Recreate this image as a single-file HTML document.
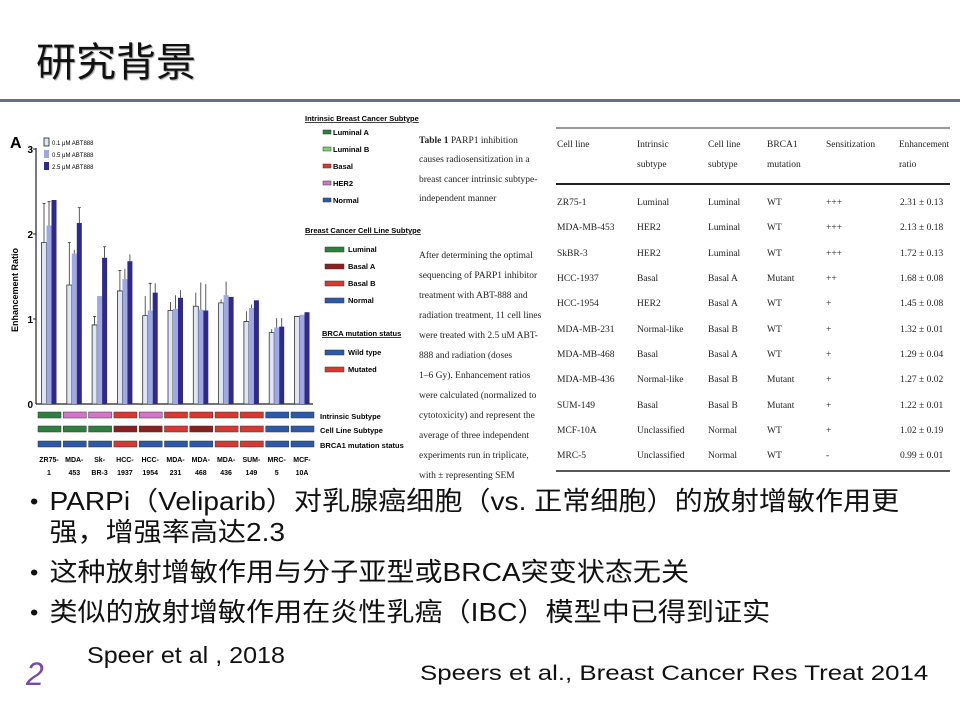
<!DOCTYPE html>
<html><head><meta charset="utf-8"><style>
html,body{margin:0;padding:0;background:#fff;}
body{width:960px;height:720px;overflow:hidden;position:relative;font-family:"Liberation Sans","Noto Sans CJK SC",sans-serif;}
.t{position:absolute;white-space:nowrap;}
</style></head><body>
<div class="t" style="left:36px;top:30px;font-size:40px;color:#111;font-family:'Noto Sans CJK SC',sans-serif;text-shadow:1px 1px 1px #999;">研究背景</div>
<div style="position:absolute;left:0;top:99px;width:960px;height:3px;background:#5b7190;"></div>

<svg width="960" height="720" style="position:absolute;left:0;top:0" font-family="Liberation Sans Narrow, Liberation Sans, sans-serif">
<text x="10" y="148" font-size="16" font-weight="bold" font-family="Liberation Sans">A</text>
<text transform="translate(18,290) rotate(-90)" font-size="9" font-weight="bold" text-anchor="middle" font-family="Liberation Sans">Enhancement Ratio</text>
<g font-size="10" font-weight="bold" text-anchor="end">
<text x="33" y="153">3</text><text x="33" y="238">2</text><text x="33" y="323">1</text><text x="33" y="408">0</text></g>
<line x1="36" y1="148" x2="36" y2="404" stroke="#222" stroke-width="1.2"/>
<line x1="36" y1="404" x2="313" y2="404" stroke="#222" stroke-width="1.2"/>
<g stroke="#222" stroke-width="1"><line x1="33" y1="149" x2="36" y2="149"/><line x1="33" y1="234" x2="36" y2="234"/><line x1="33" y1="319" x2="36" y2="319"/></g>
<rect x="44" y="138" width="5" height="8" fill="#dce6f5" stroke="#222" stroke-width="0.8"/>
<rect x="44" y="150" width="5" height="8" fill="#9fa8e0"/>
<rect x="44" y="162" width="5" height="8" fill="#2e2a8c"/>
<g font-size="6"><text x="52" y="145">0.1 μM ABT888</text><text x="52" y="157">0.5 μM ABT888</text><text x="52" y="169">2.5 μM ABT888</text></g>
<g transform="translate(0,404) scale(1,-85)">
<g fill="#dce6f5" stroke="#333" stroke-width="0.8">
<rect vector-effect="non-scaling-stroke" x="41.5" y="0" width="5" height="1.9"/>
<rect vector-effect="non-scaling-stroke" x="66.8" y="0" width="5" height="1.4"/>
<rect vector-effect="non-scaling-stroke" x="92.1" y="0" width="5" height="0.93"/>
<rect vector-effect="non-scaling-stroke" x="117.4" y="0" width="5" height="1.33"/>
<rect vector-effect="non-scaling-stroke" x="142.7" y="0" width="5" height="1.04"/>
<rect vector-effect="non-scaling-stroke" x="168" y="0" width="5" height="1.1"/>
<rect vector-effect="non-scaling-stroke" x="193.3" y="0" width="5" height="1.15"/>
<rect vector-effect="non-scaling-stroke" x="218.6" y="0" width="5" height="1.19"/>
<rect vector-effect="non-scaling-stroke" x="243.9" y="0" width="5" height="0.97"/>
<rect vector-effect="non-scaling-stroke" x="269.2" y="0" width="5" height="0.84"/>
<rect vector-effect="non-scaling-stroke" x="294.5" y="0" width="5" height="1.03"/>
</g>
<g fill="#9fa8e0">
<rect x="46.5" y="0" width="5" height="2.1"/><rect x="71.8" y="0" width="5" height="1.77"/><rect x="97.1" y="0" width="5" height="1.27"/><rect x="122.4" y="0" width="5" height="1.47"/><rect x="147.7" y="0" width="5" height="1.1"/><rect x="173" y="0" width="5" height="1.12"/><rect x="198.3" y="0" width="5" height="1.11"/><rect x="223.6" y="0" width="5" height="1.28"/><rect x="248.9" y="0" width="5" height="1.13"/><rect x="274.2" y="0" width="5" height="0.9"/><rect x="299.5" y="0" width="5" height="1.05"/>
</g>
<g fill="#2e2a8c">
<rect x="51.5" y="0" width="5" height="2.4"/><rect x="76.8" y="0" width="5" height="2.13"/><rect x="102.1" y="0" width="5" height="1.72"/><rect x="127.4" y="0" width="5" height="1.68"/><rect x="152.7" y="0" width="5" height="1.31"/><rect x="178" y="0" width="5" height="1.25"/><rect x="203.3" y="0" width="5" height="1.1"/><rect x="228.6" y="0" width="5" height="1.26"/><rect x="253.9" y="0" width="5" height="1.22"/><rect x="279.2" y="0" width="5" height="0.91"/><rect x="304.5" y="0" width="5" height="1.08"/>
</g>
<g stroke="#333" stroke-width="0.8" fill="none">
<path vector-effect="non-scaling-stroke" d="M44 1.9V2.36M42.5 2.36H45.5M49 2.1V2.38M47.5 2.38H50.5M69.3 1.4V1.9M67.8 1.9H70.8M74.3 1.77V1.81M79.3 2.13V2.31M77.8 2.31H80.8M94.6 0.93V1.03M93.1 1.03H96.1M104.6 1.72V1.85M103.1 1.85H106.1M119.9 1.33V1.57M118.4 1.57H121.4M124.9 1.47V1.59M129.9 1.68V1.76M145.2 1.04V1.27M150.2 1.1V1.42M148.7 1.42H151.7M155.2 1.31V1.42M170.5 1.1V1.2M175.5 1.12V1.28M180.5 1.25V1.34M195.8 1.15V1.31M200.8 1.11V1.43M205.8 1.1V1.41M221.1 1.19V1.23M226.1 1.28V1.44M246.4 0.97V1.09M251.4 1.13V1.17M271.7 0.84V0.88M276.7 0.9V1.01M281.7 0.91V1.01"/>
</g>
</g>
<g stroke="#333" stroke-width="0.5">
<rect x="38" y="412" width="23" height="6" fill="#2e8040"/><rect x="63.3" y="412" width="23" height="6" fill="#d574c8"/><rect x="88.6" y="412" width="23" height="6" fill="#d574c8"/><rect x="113.9" y="412" width="23" height="6" fill="#d43a32"/><rect x="139.2" y="412" width="23" height="6" fill="#d574c8"/><rect x="164.5" y="412" width="23" height="6" fill="#d43a32"/><rect x="189.8" y="412" width="23" height="6" fill="#d43a32"/><rect x="215.1" y="412" width="23" height="6" fill="#d43a32"/><rect x="240.4" y="412" width="23" height="6" fill="#d43a32"/><rect x="265.7" y="412" width="23" height="6" fill="#2d5aa8"/><rect x="291" y="412" width="23" height="6" fill="#2d5aa8"/>
<rect x="38" y="426" width="23" height="6" fill="#2e8040"/><rect x="63.3" y="426" width="23" height="6" fill="#2e8040"/><rect x="88.6" y="426" width="23" height="6" fill="#2e8040"/><rect x="113.9" y="426" width="23" height="6" fill="#8a2020"/><rect x="139.2" y="426" width="23" height="6" fill="#8a2020"/><rect x="164.5" y="426" width="23" height="6" fill="#d43a32"/><rect x="189.8" y="426" width="23" height="6" fill="#8a2020"/><rect x="215.1" y="426" width="23" height="6" fill="#d43a32"/><rect x="240.4" y="426" width="23" height="6" fill="#d43a32"/><rect x="265.7" y="426" width="23" height="6" fill="#2d5aa8"/><rect x="291" y="426" width="23" height="6" fill="#2d5aa8"/>
<rect x="38" y="441" width="23" height="6" fill="#2d5aa8"/><rect x="63.3" y="441" width="23" height="6" fill="#2d5aa8"/><rect x="88.6" y="441" width="23" height="6" fill="#2d5aa8"/><rect x="113.9" y="441" width="23" height="6" fill="#d43a32"/><rect x="139.2" y="441" width="23" height="6" fill="#2d5aa8"/><rect x="164.5" y="441" width="23" height="6" fill="#2d5aa8"/><rect x="189.8" y="441" width="23" height="6" fill="#2d5aa8"/><rect x="215.1" y="441" width="23" height="6" fill="#d43a32"/><rect x="240.4" y="441" width="23" height="6" fill="#d43a32"/><rect x="265.7" y="441" width="23" height="6" fill="#2d5aa8"/><rect x="291" y="441" width="23" height="6" fill="#2d5aa8"/>
</g>
<g font-size="7.5" font-weight="bold"><text x="320" y="419">Intrinsic Subtype</text><text x="320" y="433">Cell Line Subtype</text><text x="320" y="448">BRCA1 mutation status</text></g>
<g font-size="7" font-weight="bold" text-anchor="middle">
<text x="49" y="462">ZR75-</text><text x="49" y="475">1</text>
<text x="74.3" y="462">MDA-</text><text x="74.3" y="475">453</text>
<text x="99.6" y="462">Sk-</text><text x="99.6" y="475">BR-3</text>
<text x="124.9" y="462">HCC-</text><text x="124.9" y="475">1937</text>
<text x="150.2" y="462">HCC-</text><text x="150.2" y="475">1954</text>
<text x="175.5" y="462">MDA-</text><text x="175.5" y="475">231</text>
<text x="200.8" y="462">MDA-</text><text x="200.8" y="475">468</text>
<text x="226.1" y="462">MDA-</text><text x="226.1" y="475">436</text>
<text x="251.4" y="462">SUM-</text><text x="251.4" y="475">149</text>
<text x="276.7" y="462">MRC-</text><text x="276.7" y="475">5</text>
<text x="302" y="462">MCF-</text><text x="302" y="475">10A</text></g>
<g font-size="7.5" font-weight="bold">
<text x="305" y="121" text-decoration="underline">Intrinsic Breast Cancer Subtype</text>
<text x="333" y="135">Luminal A</text><text x="333" y="152">Luminal B</text><text x="333" y="169">Basal</text><text x="333" y="186">HER2</text><text x="333" y="203">Normal</text>
<text x="305" y="233" text-decoration="underline">Breast Cancer Cell Line Subtype</text>
<text x="348" y="252">Luminal</text><text x="348" y="269">Basal A</text><text x="348" y="286">Basal B</text><text x="348" y="303">Normal</text>
<text x="322" y="336" text-decoration="underline">BRCA mutation status</text>
<text x="348" y="355">Wild type</text><text x="348" y="372">Mutated</text></g>
<g stroke="#333" stroke-width="0.5">
<rect x="323" y="130" width="8" height="4" fill="#2e8040"/><rect x="323" y="147" width="8" height="4" fill="#7fd46a"/><rect x="323" y="164" width="8" height="4" fill="#d43a32"/><rect x="323" y="181" width="8" height="4" fill="#d574c8"/><rect x="323" y="198" width="8" height="4" fill="#2d5aa8"/>
<rect x="325" y="247" width="19" height="5" fill="#2e8040"/><rect x="325" y="264" width="19" height="5" fill="#8a2020"/><rect x="325" y="281" width="19" height="5" fill="#d43a32"/><rect x="325" y="298" width="19" height="5" fill="#2d5aa8"/>
<rect x="325" y="350" width="19" height="5" fill="#2d5aa8"/><rect x="325" y="367" width="19" height="5" fill="#d43a32"/></g>

<g font-family="Liberation Serif, serif" font-size="9.5" fill="#222">
<text x="419" y="143"><tspan font-weight="bold">Table 1</tspan> PARP1 inhibition</text>
<text x="419" y="162">causes radiosensitization in a</text>
<text x="419" y="182">breast cancer intrinsic subtype-</text>
<text x="419" y="201">independent manner</text>
<text x="419" y="258">After determining the optimal</text>
<text x="419" y="278">sequencing of PARP1 inhibitor</text>
<text x="419" y="298">treatment with ABT-888 and</text>
<text x="419" y="318">radiation treatment, 11 cell lines</text>
<text x="419" y="338">were treated with 2.5 uM ABT-</text>
<text x="419" y="358">888 and radiation (doses</text>
<text x="419" y="378">1–6 Gy). Enhancement ratios</text>
<text x="419" y="398">were calculated (normalized to</text>
<text x="419" y="418">cytotoxicity) and represent the</text>
<text x="419" y="438">average of three independent</text>
<text x="419" y="458">experiments run in triplicate,</text>
<text x="419" y="478">with ± representing SEM</text>
</g>
<line x1="556" y1="128" x2="950" y2="128" stroke="#333" stroke-width="1"/>
<line x1="556" y1="184" x2="950" y2="184" stroke="#222" stroke-width="2"/>
<line x1="556" y1="471" x2="950" y2="471" stroke="#222" stroke-width="1.5"/>
<g font-family="Liberation Serif, serif" font-size="9.5" fill="#222">
<text x="557" y="147">Cell line</text><text x="637" y="147">Intrinsic</text><text x="637" y="167">subtype</text><text x="708" y="147">Cell line</text><text x="708" y="167">subtype</text><text x="767" y="147">BRCA1</text><text x="767" y="167">mutation</text><text x="826" y="147">Sensitization</text><text x="899" y="147" textLength="50" lengthAdjust="spacingAndGlyphs">Enhancement</text><text x="899" y="167">ratio</text>
</g>
<g font-family="Liberation Serif, serif" font-size="9.5" fill="#222">
<text y="205"><tspan x="557">ZR75-1</tspan><tspan x="637">Luminal</tspan><tspan x="708">Luminal</tspan><tspan x="767">WT</tspan><tspan x="826">+++</tspan><tspan x="900">2.31 ± 0.13</tspan></text>
<text y="230"><tspan x="557">MDA-MB-453</tspan><tspan x="637">HER2</tspan><tspan x="708">Luminal</tspan><tspan x="767">WT</tspan><tspan x="826">+++</tspan><tspan x="900">2.13 ± 0.18</tspan></text>
<text y="256"><tspan x="557">SkBR-3</tspan><tspan x="637">HER2</tspan><tspan x="708">Luminal</tspan><tspan x="767">WT</tspan><tspan x="826">+++</tspan><tspan x="900">1.72 ± 0.13</tspan></text>
<text y="281"><tspan x="557">HCC-1937</tspan><tspan x="637">Basal</tspan><tspan x="708">Basal A</tspan><tspan x="767">Mutant</tspan><tspan x="826">++</tspan><tspan x="900">1.68 ± 0.08</tspan></text>
<text y="306"><tspan x="557">HCC-1954</tspan><tspan x="637">HER2</tspan><tspan x="708">Basal A</tspan><tspan x="767">WT</tspan><tspan x="826">+</tspan><tspan x="900">1.45 ± 0.08</tspan></text>
<text y="332"><tspan x="557">MDA-MB-231</tspan><tspan x="637">Normal-like</tspan><tspan x="708">Basal B</tspan><tspan x="767">WT</tspan><tspan x="826">+</tspan><tspan x="900">1.32 ± 0.01</tspan></text>
<text y="357"><tspan x="557">MDA-MB-468</tspan><tspan x="637">Basal</tspan><tspan x="708">Basal A</tspan><tspan x="767">WT</tspan><tspan x="826">+</tspan><tspan x="900">1.29 ± 0.04</tspan></text>
<text y="382"><tspan x="557">MDA-MB-436</tspan><tspan x="637">Normal-like</tspan><tspan x="708">Basal B</tspan><tspan x="767">Mutant</tspan><tspan x="826">+</tspan><tspan x="900">1.27 ± 0.02</tspan></text>
<text y="408"><tspan x="557">SUM-149</tspan><tspan x="637">Basal</tspan><tspan x="708">Basal B</tspan><tspan x="767">Mutant</tspan><tspan x="826">+</tspan><tspan x="900">1.22 ± 0.01</tspan></text>
<text y="433"><tspan x="557">MCF-10A</tspan><tspan x="637">Unclassified</tspan><tspan x="708">Normal</tspan><tspan x="767">WT</tspan><tspan x="826">+</tspan><tspan x="900">1.02 ± 0.19</tspan></text>
<text y="458"><tspan x="557">MRC-5</tspan><tspan x="637">Unclassified</tspan><tspan x="708">Normal</tspan><tspan x="767">WT</tspan><tspan x="826">-</tspan><tspan x="900">0.99 ± 0.01</tspan></text>
</g>
</svg>

<div style="position:absolute;left:30px;top:486px;font-size:26px;line-height:31px;color:#111;font-family:'Liberation Sans','Noto Sans CJK SC',sans-serif;transform:scaleX(1.08);transform-origin:0 0;white-space:nowrap;">
<div style="position:relative;padding-left:18px;"><span style="position:absolute;left:0;font-size:22px;">•</span>PARPi（Veliparib）对乳腺癌细胞（vs. 正常细胞）的放射增敏作用更<br>强，增强率高达2.3</div>
<div style="position:relative;padding-left:18px;margin-top:9px;"><span style="position:absolute;left:0;font-size:22px;">•</span>这种放射增敏作用与分子亚型或BRCA突变状态无关</div>
<div style="position:relative;padding-left:18px;margin-top:9px;"><span style="position:absolute;left:0;font-size:22px;">•</span>类似的放射增敏作用在炎性乳癌（IBC）模型中已得到证实</div>
</div>
<div class="t" style="left:87px;top:642px;font-size:23px;color:#111;transform:scaleX(1.09);transform-origin:0 0;">Speer et al , 2018</div>
<div class="t" style="left:26px;top:656px;font-size:32px;color:#7a4aa8;font-style:italic;">2</div>
<div class="t" style="left:420px;top:662px;font-size:21px;color:#111;transform:scaleX(1.23);transform-origin:0 0;">Speers et al., Breast Cancer Res Treat 2014</div>
</body></html>
